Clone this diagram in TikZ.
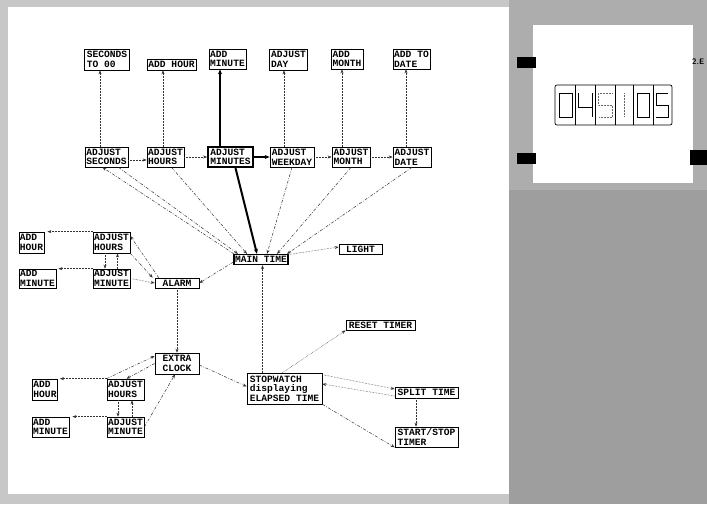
\documentclass[tikz,border=0pt]{standalone}
\usepackage{fontspec}
\newfontfamily\boxfont{Liberation Mono}
\usetikzlibrary{arrows.meta}
\tikzset{
	statebox/.style={rectangle, draw=black, line width=0.7pt, fill=white, inner sep=1pt,
		align=left, font=\boxfont\bfseries\fontsize{9.6}{9.6}\selectfont},
	boldbox/.style={statebox, line width=1.8pt},
	dotarr/.style={-{Stealth[length=4pt,width=3pt]}, densely dotted, line width=0.5pt, draw=black!80},
	dasharr/.style={-{Stealth[length=4pt,width=3pt]}, dash pattern=on 3pt off 1.5pt on 0.8pt off 1.5pt,
		line width=0.5pt, draw=black!80},
	thickarr/.style={-{Stealth[length=5pt,width=4pt]}, line width=2pt},
	segline/.style={line width=0.8pt},
	segfaint/.style={line width=0.5pt, densely dotted, draw=black!60}
}
\begin{document}
\begin{tikzpicture}[x=1pt,y=-1pt]
	\useasboundingbox (0,0) rectangle (707,504);
	% page background
	\fill[black!22] (0,0) rectangle (707,504);
	\fill[black!32] (509,0) rectangle (707,190);
	\fill[black!38] (509,190) rectangle (707,504);
	\fill[white] (8,7) rectangle (509,494);
	\fill[white] (533,25) rectangle (693,183);
	% watch face on the right
	\fill[black] (517,57) rectangle (536,68);
	\fill[black] (517,153) rectangle (536,164);
	\fill[black] (690,150) rectangle (707,165);
	\node[anchor=west, inner sep=0pt, font=\sffamily\bfseries\fontsize{8}{8}\selectfont] (modelabel) at (692,61.5) {2.E};
	\draw[line width=0.7pt, rounded corners=2pt] (555,85) rectangle (672,125);
	\foreach \cx in {575,595,615,633,653}
		\draw[line width=0.6pt] (\cx,85) -- (\cx,125);
	\draw[segline] (559,93) rectangle (572,117);
	\draw[segline] (578,93) -- (578,107) -- (592,107);
	\draw[segline] (592,93) -- (592,117);
	\draw[segfaint] (612,93) -- (598,93) -- (598,105) -- (612,105) -- (612,117) -- (598,117);
	\draw[segfaint] (624,93) -- (624,117);
	\draw[segline] (637,93) rectangle (649,117);
	\draw[segline] (668,93) -- (656,93) -- (656,105) -- (668,105) -- (668,117) -- (656,117);

	% main time adjust row
	\node[statebox, minimum width=45, minimum height=21] (secto) at (107,59.5) {SECONDS\\TO 00};
	\node[statebox, minimum width=49, minimum height=11] (addhour) at (171.5,64.5) {ADD HOUR};
	\node[statebox, minimum width=37, minimum height=20] (addmin) at (227.5,59) {ADD\\MINUTE};
	\node[statebox, minimum width=38, minimum height=21] (adjday) at (288.5,59.5) {ADJUST\\DAY};
	\node[statebox, minimum width=32, minimum height=20] (addmonth) at (347,59) {ADD\\MONTH};
	\node[statebox, minimum width=37, minimum height=20] (adddate) at (411.5,59) {ADD TO\\DATE};

	\node[statebox, minimum width=43, minimum height=20] (adjsec) at (106.5,157) {ADJUST\\SECONDS};
	\node[statebox, minimum width=37, minimum height=20] (adjhours) at (165.5,157) {ADJUST\\HOURS};
	\node[boldbox, minimum width=45, minimum height=20] (adjminutes) at (230.5,157) {ADJUST\\MINUTES};
	\node[statebox, minimum width=44, minimum height=20] (adjweekday) at (292,157) {ADJUST\\WEEKDAY};
	\node[statebox, minimum width=38, minimum height=20] (adjmonth) at (351,157) {ADJUST\\MONTH};
	\node[statebox, minimum width=38, minimum height=20] (adjdate) at (412,157) {ADJUST\\DATE};

	\node[statebox, line width=1.2pt, minimum width=54, minimum height=10] (maintime) at (261,259.5) {MAIN TIME};
	\node[statebox, minimum width=43, minimum height=10] (light) at (360.5,249) {LIGHT};

	% alarm
	\node[statebox, minimum width=44, minimum height=10] (alarm) at (177,283) {ALARM};
	\node[statebox, minimum width=25, minimum height=21] (addhrA) at (31.5,242.5) {ADD\\HOUR};
	\node[statebox, minimum width=37, minimum height=21] (adjhrA) at (111.5,242.5) {ADJUST\\HOURS};
	\node[statebox, minimum width=37, minimum height=19] (addminA) at (37.5,278.5) {ADD\\MINUTE};
	\node[statebox, minimum width=37, minimum height=19] (adjminA) at (111.5,278.5) {ADJUST\\MINUTE};

	% extra clock
	\node[statebox, minimum width=44, minimum height=21] (extraclock) at (177,363.5) {EXTRA\\CLOCK};
	\node[statebox, minimum width=24, minimum height=21] (addhrB) at (45,389.5) {ADD\\HOUR};
	\node[statebox, minimum width=37, minimum height=21] (adjhrB) at (125.5,389.5) {ADJUST\\HOURS};
	\node[statebox, minimum width=37, minimum height=20] (addminB) at (50.5,427) {ADD\\MINUTE};
	\node[statebox, minimum width=37, minimum height=20] (adjminB) at (125.5,427) {ADJUST\\MINUTE};

	% stopwatch
	\node[statebox, minimum width=75, minimum height=31] (stopwatch) at (284.5,388.5) {STOPWATCH\\displaying\\ELAPSED TIME};
	\node[statebox, minimum width=69, minimum height=10] (reset) at (380.5,325) {RESET TIMER};
	\node[statebox, minimum width=63, minimum height=11] (split) at (426.5,392.5) {SPLIT TIME};
	\node[statebox, minimum width=63, minimum height=20] (startstop) at (426.5,437) {START/STOP\\TIMER};

	% up to the top row
	\foreach \lo/\up/\dx in {adjsec/secto/-6.5, adjhours/addhour/-2.5, adjweekday/adjday/-8, adjmonth/addmonth/-9, adjdate/adddate/-6}
		\draw[dotarr] ([xshift=\dx]\lo.north) coordinate (p) -- (p |- \up.south);
	\draw[thickarr] ([xshift=-10.5]adjminutes.north) coordinate (p) -- (p |- addmin.south);

	% along the adjust row
	\draw[dotarr] ([yshift=-3]adjsec.east) -- ([yshift=-3]adjhours.west);
	\draw[dotarr] (adjhours.east) -- (adjminutes.west);
	\draw[thickarr] (adjminutes.east) -- (adjweekday.west);
	\draw[dotarr] (adjweekday.east) -- (adjmonth.west);
	\draw[dotarr] (adjmonth.east) -- (adjdate.west);

	% back to main time
	\draw[dasharr] ([xshift=-27]maintime.north) -- ([xshift=-4]adjsec.south);
	\draw[dasharr] ([xshift=12]adjsec.south) -- ([xshift=-23]maintime.north);
	\draw[dasharr] ([xshift=6]adjhours.south) -- ([xshift=-14]maintime.north);
	\draw[thickarr] ([xshift=5]adjminutes.south) -- ([xshift=-4]maintime.north);
	\draw[dasharr] (adjweekday.south) -- ([xshift=6]maintime.north);
	\draw[dasharr] (adjmonth.south) -- ([xshift=16]maintime.north);
	\draw[dasharr] (adjdate.south) -- ([xshift=26]maintime.north);
	\draw[dotarr] ([yshift=5]maintime.east) -- ([yshift=2]light.west);

	% alarm links
	\draw[dasharr] ([yshift=-2.5]maintime.west) -- (alarm.east);
	\draw[dotarr] (adjhrA.north west) -- ([xshift=3]addhrA.north east);
	\draw[dotarr] (adjminA.north west) -- ([xshift=2]addminA.north east);
	\draw[dotarr] ([xshift=-6.5]adjhrA.south) coordinate (p) -- (p |- adjminA.north);
	\draw[dotarr] ([xshift=6]adjminA.north) coordinate (p) -- (p |- adjhrA.south);
	\draw[dasharr] (adjhrA.south east) -- ([xshift=-2]alarm.north west);
	\draw[dasharr] ([xshift=4]alarm.north west) -- ([yshift=6.5]adjhrA.east);
	\draw[dotarr] (adjminA.east) -- (alarm.west);
	\draw[dotarr] (alarm.south) -- (extraclock.north);

	% extra clock links
	\draw[dotarr] (adjhrB.north west) -- ([xshift=2]addhrB.north east);
	\draw[dotarr] (adjminB.north west) -- ([xshift=3]addminB.north east);
	\draw[dotarr] ([xshift=-7.5]adjhrB.south) coordinate (p) -- (p |- adjminB.north);
	\draw[dotarr] ([xshift=6.5]adjminB.north) coordinate (p) -- (p |- adjhrB.south);
	\draw[dasharr] (adjhrB.north west) -- ([yshift=7.5]extraclock.west);
	\draw[dasharr] (extraclock.west) -- ([xshift=1]adjhrB.north);
	\draw[dasharr] (adjminB.east) -- ([xshift=-2]extraclock.south);
	\draw[dasharr] ([yshift=-1.5]extraclock.east) -- ([yshift=2]stopwatch.west);

	% stopwatch links
	\draw[dotarr] ([xshift=-22]stopwatch.north) coordinate (p) -- (p |- maintime.south);
	\draw[dotarr] ([xshift=-2]stopwatch.north) -- (reset.south west);
	\draw[dotarr] ([yshift=-2]stopwatch.north east) -- ([yshift=3.5]split.west);
	\draw[dotarr] ([yshift=-3.5]split.west) -- ([yshift=4.5]stopwatch.east);
	\draw[dotarr] ([xshift=-10.5]split.south) coordinate (p) -- (p |- startstop.north);
	\draw[dasharr] (stopwatch.south east) -- (startstop.south west);
\end{tikzpicture}
\end{document}
